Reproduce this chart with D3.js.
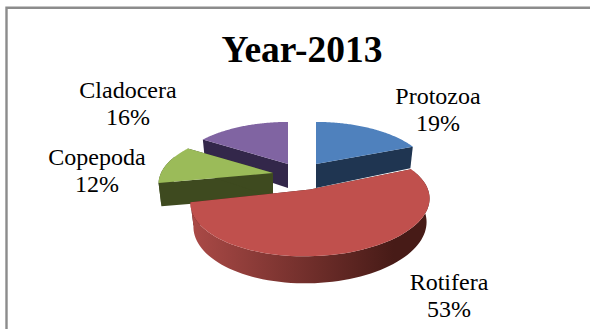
<!DOCTYPE html>
<html>
<head>
<meta charset="utf-8">
<script src="https://cdn.jsdelivr.net/npm/d3@7"></script>
<style>
html,body{margin:0;padding:0;background:#fff;}
svg{display:block;}
text{font-family:"Liberation Serif","Times New Roman",serif;fill:#000;text-anchor:middle;}
</style>
</head>
<body>
<svg id="chart" width="590" height="329"></svg>
<script>
const chartTitle = "Year-2013";
const categories = ["Protozoa", "Rotifera", "Copepoda", "Cladocera"];
const shares = [19, 53, 12, 16];
const topColors = ["#4f81bd", "#c0504d", "#9bbb59", "#8064a2"];
const faceColors = ["#1f3551", "#4a1c19", "#3e4a1f", "#33274a"];
const wallLight = ["#1f3551", "#ab4a47", "#3e4a1f", "#33274a"];
const wallDark = ["#1f3551", "#471b17", "#3e4a1f", "#33274a"];
const apexX = [316, 310, 273, 288];
const apexY = [164, 189.5, 173, 164];
const radii = [112, 117, 112, 112];
const shear = [0, 0.02, 0, 0];
const paintOrder = [3, 2, 0, 1];
const labelX = [438, 449, 97, 128];
const labelY = [104, 290, 165, 98];

const svg = d3.select("#chart");
const tilt = 0.453, persp = 0.206, depth = 24;

// Circle on a tilted disc, seen in perspective: the far side is compressed.
function rim(i, a, lower) {
  const s = 1 / (1 + persp * Math.cos(a));
  const r = radii[i] * (lower ? 0.975 : 1);
  const dx = r * Math.sin(a) * s;
  return [
    apexX[i] + dx,
    apexY[i] - r * tilt * Math.cos(a) * s - shear[i] * dx + (lower ? depth * s * 0.95 : 0)
  ];
}
const line = d3.line();
const defs = svg.append("defs");

svg.append("path")
  .attr("d", "M6.5,329V7.7H590")
  .attr("fill", "none").attr("stroke", "#8c8c8c").attr("stroke-width", 2.4);

const arcs = d3.pie().sort(null)(shares);

paintOrder.forEach(i => {
  const arc = arcs[i];
  const angles = d3.range(0, 81).map(k => arc.startAngle + (arc.endAngle - arc.startAngle) * k / 80);
  const upper = angles.map(a => rim(i, a, false));
  const lower = angles.map(a => rim(i, a, true));
  const apex = [apexX[i], apexY[i]];
  const apexLow = [apexX[i], apexY[i] + depth];
  const g = svg.append("g").attr("class", "slice");

  const grad = defs.append("linearGradient")
    .attr("id", "wall" + i).attr("gradientUnits", "userSpaceOnUse")
    .attr("x1", d3.min(upper, p => p[0])).attr("x2", d3.max(upper, p => p[0]))
    .attr("y1", 0).attr("y2", 0);
  grad.append("stop").attr("offset", "0").attr("stop-color", wallLight[i]);
  grad.append("stop").attr("offset", "0.85").attr("stop-color", wallDark[i]);

  // Cut faces
  [0, angles.length - 1].forEach(k => {
    g.append("path")
      .attr("d", line([apex, upper[k], lower[k], apexLow]) + "Z")
      .attr("fill", faceColors[i]);
  });
  // Outer wall: only the part of the rim that faces the viewer
  const front = angles.map((a, k) => k).filter(k => Math.cos(angles[k]) < 0.35);
  if (front.length > 1) {
    g.append("path")
      .attr("d", line(front.map(k => upper[k]).concat(front.map(k => lower[k]).reverse())) + "Z")
      .attr("fill", `url(#wall${i})`);
  }
  // Top surface
  g.append("path")
    .attr("d", line([apex].concat(upper)) + "Z")
    .attr("fill", topColors[i]);
});

svg.append("text")
  .attr("x", 302).attr("y", 62)
  .attr("font-size", 37.5).attr("font-weight", "bold")
  .text(chartTitle);

categories.forEach((name, i) => {
  const t = svg.append("text").attr("font-size", 24);
  t.append("tspan").attr("x", labelX[i]).attr("y", labelY[i]).text(name);
  t.append("tspan").attr("x", labelX[i]).attr("y", labelY[i] + 26.5).text(shares[i] + "%");
});
</script>
</body>
</html>
